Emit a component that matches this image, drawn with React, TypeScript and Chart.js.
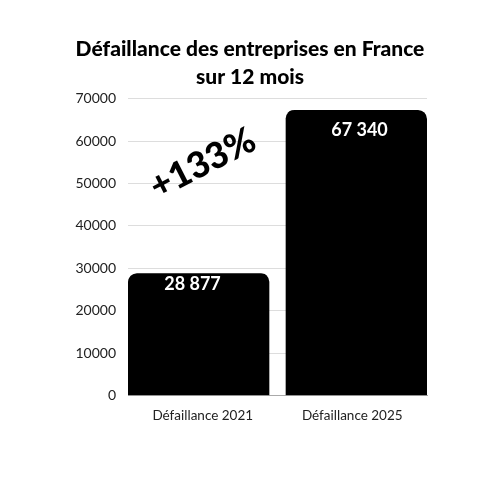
import React, { useEffect, useRef } from "react";
import { Chart, registerables } from "chart.js";

Chart.register(...registerables);

const categories = ["Défaillance 2021", "Défaillance 2025"];
const values = [28877, 67340];
const valueLabels = ["28 877", "67 340"];
const titleLines = ["Défaillance des entreprises en France", "sur 12 mois"];
const growthLabel = "+133%";

const FONT = "Lato, 'Noto Sans', sans-serif";
const GAP_HALF = 8.5;
const RADIUS = 9;

const overlayPlugin = {
  id: "overlay",
  afterDatasetsDraw(chart: any, _args: any, opts: any) {
    const { ctx } = chart;
    const meta = chart.getDatasetMeta(0);
    ctx.save();
    ctx.fillStyle = "#ffffff";
    ctx.font = `bold 18px ${FONT}`;
    ctx.textAlign = "center";
    ctx.textBaseline = "middle";
    meta.data.forEach((bar: any, i: number) => {
      const innerCenter = bar.x + (i === 0 ? -GAP_HALF / 2 : GAP_HALF / 2);
      ctx.fillText(valueLabels[i], innerCenter + opts.labelDx[i], bar.y + opts.labelDy[i]);
    });
    const x = chart.scales.x.getPixelForValue(0);
    const y = chart.scales.y.getPixelForValue(54700);
    ctx.translate(x, y);
    ctx.rotate((-27 * Math.PI) / 180);
    ctx.fillStyle = "#000000";
    ctx.font = `900 36px ${FONT}`;
    ctx.fillText(growthLabel, 0, 0);
    ctx.restore();
  },
};

export default function App() {
  const ref = useRef<HTMLCanvasElement>(null);
  useEffect(() => {
    if (!ref.current) return;
    const chart = new Chart(ref.current, {
      type: "bar",
      data: {
        labels: categories,
        datasets: [
          {
            data: values,
            backgroundColor: "#000000",
            borderColor: "rgba(0,0,0,0)",
            borderWidth: (c: any) =>
              c.dataIndex === 0
                ? { top: 0, bottom: 0, left: 0, right: GAP_HALF }
                : { top: 0, bottom: 0, left: GAP_HALF, right: 0 },
            borderRadius: (c: any) =>
              c.dataIndex === 0
                ? { topLeft: RADIUS, topRight: RADIUS + GAP_HALF, bottomLeft: 0, bottomRight: 0 }
                : { topLeft: RADIUS + GAP_HALF, topRight: RADIUS, bottomLeft: 0, bottomRight: 0 },
            borderSkipped: false,
            categoryPercentage: 1,
            barPercentage: 1,
          },
        ],
      },
      options: {
        animation: false,
        responsive: true,
        maintainAspectRatio: false,
        layout: { padding: { left: 0, right: 0, top: 36, bottom: 72 } },
        plugins: {
          legend: { display: false },
          tooltip: { enabled: false },
          title: {
            display: true,
            text: titleLines,
            color: "#000",
            font: { family: FONT, size: 21, weight: "900", lineHeight: 1.3 },
            padding: { top: 0, bottom: 8 },
          },
          overlay: { labelDx: [-6, 3], labelDy: [11, 20] },
        } as any,
        scales: {
          x: {
            grid: { display: false },
            border: { color: "#aaaaaa" },
            ticks: { color: "#222", font: { family: FONT, size: 13.5 }, padding: 4 },
          },
          y: {
            min: 0,
            max: 70000,
            afterFit: (s: any) => {
              s.width = 128;
            },
            grid: { color: "#dddddd", drawTicks: false },
            border: { display: false },
            ticks: {
              stepSize: 10000,
              color: "#222",
              font: { family: FONT, size: 14 },
              padding: 12,
              callback: (v: any) => String(v),
            },
          },
          yRight: {
            position: "right",
            min: 0,
            max: 70000,
            afterFit: (s: any) => {
              s.width = 73;
            },
            grid: { display: false },
            border: { display: false },
            ticks: { display: false },
          },
        },
      },
      plugins: [overlayPlugin],
    });
    return () => chart.destroy();
  }, []);
  return (
    <div style={{ position: "absolute", left: 0, top: 0, width: 500, height: 500 }}>
      <canvas ref={ref} />
    </div>
  );
}
